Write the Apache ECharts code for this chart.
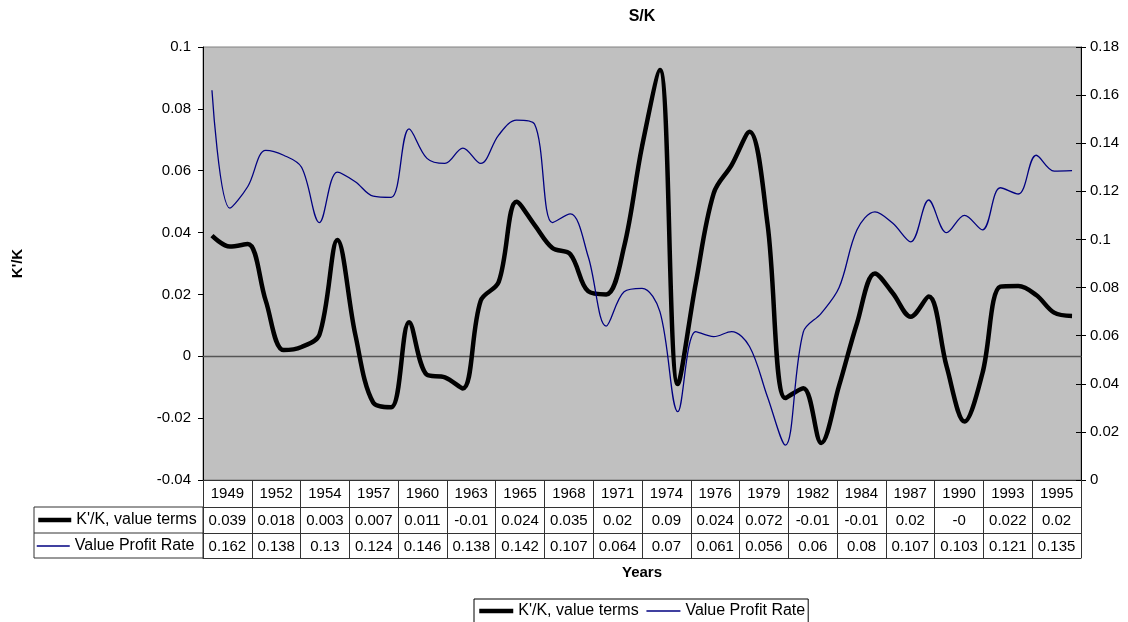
<!DOCTYPE html>
<html>
<head>
<meta charset="utf-8">
<script src="https://cdn.jsdelivr.net/npm/echarts@6/dist/echarts.min.js"></script>
<style>html,body{margin:0;padding:0;background:#fff;}#c{width:1128px;height:622px;}</style>
</head>
<body>
<div id="c"></div>
<script>
// ---- data ----
const years = ['1949','1950','1951','1952','1953','1954','1955','1956','1957','1958',
  '1959','1960','1961','1962','1963','1964','1965','1966','1967','1968',
  '1969','1970','1971','1972','1973','1974','1975','1976','1977','1978',
  '1979','1980','1981','1982','1983','1984','1985','1986','1987','1988',
  '1989','1990','1991','1992','1993','1994','1995','1996','1997'];
const kkName = "K'/K, value terms";
const vprName = 'Value Profit Rate';
const kk = [0.039, 0.0355, 0.0363, 0.018, 0.002, 0.003, 0.007, 0.0376, 0.007, -0.015,
  -0.0165, 0.011, -0.006, -0.0068, -0.0104, 0.018, 0.024, 0.050, 0.0425, 0.035,
  0.033, 0.021, 0.020, 0.0354, 0.0678, 0.0926, -0.009, 0.0236, 0.0527, 0.0618,
  0.0726, 0.043, -0.0135, -0.0103, -0.028, -0.0095, 0.0107, 0.0268, 0.0204, 0.0128,
  0.0193, -0.0033, -0.0211, -0.0055, 0.0225, 0.0227, 0.0198, 0.0141, 0.013];
const vpr = [0.162, 0.113, 0.122, 0.137, 0.135, 0.130, 0.107, 0.128, 0.124, 0.118,
  0.1175, 0.146, 0.1337, 0.1316, 0.138, 0.1316, 0.1434, 0.1496, 0.148, 0.107,
  0.1106, 0.0928, 0.064, 0.0783, 0.0797, 0.070, 0.0284, 0.0617, 0.0596, 0.0617,
  0.0555, 0.0346, 0.0145, 0.0615, 0.0693, 0.080, 0.104, 0.1115, 0.1067, 0.099,
  0.1164, 0.1028, 0.110, 0.104, 0.1215, 0.1189, 0.135, 0.1284, 0.1286];
// data table (as printed under the chart)
const tableYears = ['1949','1952','1954','1957','1960','1963','1965','1968','1971',
  '1974','1976','1979','1982','1984','1987','1990','1993','1995'];
const tableKK = ['0.039','0.018','0.003','0.007','0.011','-0.01','0.024','0.035','0.02',
  '0.09','0.024','0.072','-0.01','-0.01','0.02','-0','0.022','0.02'];
const tableVPR = ['0.162','0.138','0.13','0.124','0.146','0.138','0.142','0.107','0.064',
  '0.07','0.061','0.056','0.06','0.08','0.107','0.103','0.121','0.135'];

const FONT = 'Liberation Sans';
const LINE = '#333';
const idx = tableYears.map((_, i) => String(i));

function tableAxis(offset, labels, tickLen, showLabel) {
  return {
    type: 'category', gridIndex: 0, position: 'bottom', offset: offset,
    data: idx, boundaryGap: true,
    axisLine: { show: true, onZero: false, lineStyle: { color: LINE, width: 1 } },
    axisTick: { show: tickLen > 0, interval: 0, length: tickLen, lineStyle: { color: LINE, width: 1 } },
    axisLabel: { show: showLabel, interval: 0, margin: 6, fontSize: 15, color: '#000', fontFamily: FONT,
      formatter: (v, i) => labels ? labels[i] : '' },
    splitLine: { show: false }
  };
}

const chart = echarts.init(document.getElementById('c'), null, { renderer: 'canvas' });
const yearsAxisLast = tableAxis(78, null, 0, false);
yearsAxisLast.name = 'Years';
yearsAxisLast.nameLocation = 'middle';
yearsAxisLast.nameGap = 7;
yearsAxisLast.nameTextStyle = { fontSize: 15, fontWeight: 'bold', color: '#000', fontFamily: FONT, verticalAlign: 'top' };

chart.setOption({
  animation: false,
  textStyle: { fontFamily: FONT, color: '#000' },
  grid: { left: 203, right: 47, top: 47, bottom: 142, show: true, backgroundColor: '#C0C0C0', borderColor: '#808080', borderWidth: 1 },
  graphic: [
    { type: 'text', x: 642, y: 9, style: { text: 'S/K', fontSize: 16, fontWeight: 'bold', fontFamily: FONT, fill: '#000', align: 'center', textAlign: 'center' } },
    { type: 'rect', shape: { x: 34, y: 507, width: 169, height: 51 }, style: { fill: 'none', stroke: LINE, lineWidth: 1 } },
    { type: 'line', shape: { x1: 34, y1: 533, x2: 203, y2: 533 }, style: { stroke: LINE, lineWidth: 1 } }
  ],
  legend: [
    {
      left: 36, top: 512, padding: 0, itemWidth: 33, itemHeight: 14, selectedMode: false,
      textStyle: { fontSize: 16, color: '#000', fontFamily: FONT },
      data: [{ name: kkName, itemStyle: { opacity: 0 }, lineStyle: { width: 4.5, color: '#000' } }]
    },
    {
      left: 36, top: 538, padding: 0, itemWidth: 33, itemHeight: 14, selectedMode: false,
      textStyle: { fontSize: 16, color: '#000', fontFamily: FONT },
      data: [{ name: vprName, itemStyle: { opacity: 0 }, lineStyle: { width: 1.5, color: '#000080' } }]
    },
    {
      left: 474, top: 599, padding: [4, 3, 4, 3], itemGap: 7, itemWidth: 34, itemHeight: 14, selectedMode: false,
      borderColor: '#000', borderWidth: 1, backgroundColor: '#fff',
      textStyle: { fontSize: 16, color: '#000', fontFamily: FONT },
      data: [
        { name: kkName, itemStyle: { opacity: 0 }, lineStyle: { width: 4.5, color: '#000' } },
        { name: vprName, itemStyle: { opacity: 0 }, lineStyle: { width: 1.5, color: '#000080' } }
      ]
    }
  ],
  xAxis: [
    {
      type: 'category', gridIndex: 0, data: years, boundaryGap: true,
      axisLine: { show: true, onZero: true, lineStyle: { color: '#555', width: 1.3 } },
      axisTick: { show: false }, axisLabel: { show: false }, splitLine: { show: false }
    },
    tableAxis(0, tableYears, 27, true),
    tableAxis(27, tableKK, 26, true),
    tableAxis(53, tableVPR, 25, true),
    yearsAxisLast
  ],
  yAxis: [
    {
      type: 'value', min: -0.04, max: 0.1, interval: 0.02, position: 'left',
      name: "K'/K", nameLocation: 'middle', nameRotate: 90, nameGap: 178,
      nameTextStyle: { fontSize: 15, fontWeight: 'bold', color: '#000', fontFamily: FONT },
      axisLine: { show: true, lineStyle: { color: '#000', width: 1 } },
      axisTick: { show: true, length: 5, lineStyle: { color: '#000' } },
      axisLabel: { fontSize: 15, color: '#000', margin: 12, fontFamily: FONT },
      splitLine: { show: false }
    },
    {
      type: 'value', min: 0, max: 0.18, interval: 0.02, position: 'right',
      axisLine: { show: true, lineStyle: { color: '#000', width: 1 } },
      axisTick: { show: true, length: 5, lineStyle: { color: '#000' } },
      axisLabel: { fontSize: 15, color: '#000', margin: 9, fontFamily: FONT },
      splitLine: { show: false }
    },
    {
      type: 'value', min: 0, max: 0.18, interval: 0.02, position: 'right',
      axisLine: { show: false },
      axisTick: { show: true, inside: true, length: 5, lineStyle: { color: '#000' } },
      axisLabel: { show: false }, splitLine: { show: false }
    }
  ],
  series: [
    {
      name: kkName, type: 'line', xAxisIndex: 0, yAxisIndex: 0, data: kk,
      smooth: 0.35, symbol: 'none', lineStyle: { color: '#000', width: 4.5 }, itemStyle: { color: '#000' }
    },
    {
      name: vprName, type: 'line', xAxisIndex: 0, yAxisIndex: 1, data: vpr,
      smooth: 0.35, symbol: 'none', lineStyle: { color: '#000080', width: 1.3 }, itemStyle: { color: '#000080' }
    }
  ]
});
</script>
</body>
</html>
